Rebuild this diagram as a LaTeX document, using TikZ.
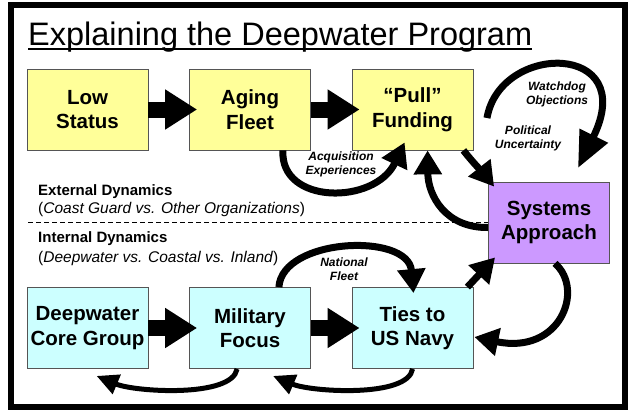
\documentclass[tikz,border=0pt]{standalone}
\usepackage{fontspec}
\setmainfont{Liberation Sans}
\usetikzlibrary{arrows.meta,calc}
\definecolor{yfill}{HTML}{FFFF99}
\definecolor{cfill}{HTML}{CCFFFF}
\definecolor{pfill}{HTML}{CC99FF}
\definecolor{boxline}{HTML}{555555}
\begin{document}
\begin{tikzpicture}[x=1pt,y=-1pt,
  box/.style={draw=boxline, line width=0.8pt, minimum width=121pt, minimum height=81pt,
    inner sep=0pt, align=center, font=\fontsize{20.5}{24.5}\selectfont\bfseries},
  ybox/.style={box, fill=yfill},
  cbox/.style={box, fill=cfill},
  pbox/.style={box, fill=pfill},
  block/.style={line width=16pt, -{Triangle[width=38pt,length=32pt]}},
  curvebig/.style={line width=7pt, -{Triangle[width=30pt,length=36pt]}},
  curvemid/.style={line width=7pt, -{Triangle[width=27pt,length=24pt]}},
  curvesmall/.style={line width=5pt, -{Triangle[width=20pt,length=22pt]}},
  lab/.style={font=\fontsize{12}{14}\selectfont\bfseries\itshape, align=center, inner sep=0pt},
  headtxt/.style={font=\fontsize{15}{17}\selectfont\bfseries, anchor=base west, inner sep=0pt},
  subtxt/.style={font=\fontsize{15.5}{17}\selectfont, anchor=base west, inner sep=0pt},
]
\useasboundingbox (0,0) rectangle (632,413);
\fill[white] (0,0) rectangle (632,413);
% frame
\draw[line width=6pt] (11,4.5) rectangle (624.5,407);
% title
\node[anchor=base west, inner sep=0pt, font=\fontsize{32.5}{36}\selectfont] (title) at (28,45) {Explaining the Deepwater Program};
\draw[line width=2pt] ($(title.base west)+(0,4)$) -- ($(title.base east)+(0,4)$);
% boxes
\node[ybox] (low) at (87.5,109.5) {Low\\Status};
\node[ybox] (aging) at (250,109.5) {Aging\\Fleet};
\node[ybox] (pull) at (412.5,109.5) {“Pull”\\Funding};
\node[cbox] (deep) at (87.5,328) {Deepwater\\Core Group};
\node[cbox] (mil) at (250,328) {Military\\Focus};
\node[cbox] (ties) at (412.5,328) {Ties to\\US Navy};
\node[pbox] (sys) at (549,222.5) {Systems\\Approach};
% dashed separator
\coordinate (dl) at (28,222.5);
\draw[line width=1.5pt, dash pattern=on 5pt off 3pt] (dl) -- (sys.west);
% texts
\node[headtxt] (ext) at (38,195) {External Dynamics};
\node[subtxt] (extsub) at (38,213) {(\textit{Coast Guard vs. Other Organizations})};
\node[headtxt] (int) at (38,242) {Internal Dynamics};
\node[subtxt] (intsub) at (38,262) {(\textit{Deepwater vs. Coastal vs. Inland})};
% block arrows
\draw[block] (low.east) -- ($(aging.west)+(8,0)$);
\draw[block] (aging.east) -- ($(pull.west)+(8,0)$);
\draw[block] (deep.east) -- ($(mil.west)+(8,0)$);
\draw[block] (mil.east) -- ($(ties.west)+(8,0)$);
% acquisition experiences
\draw[curvemid] ($(aging.south east)+(-28,0)$) .. controls (280,205) and (375,205) .. ($(pull.south west)+(53,-8)$);
\node[lab] (acq) at (341,164) {Acquisition\\Experiences};
% pull -> systems
\draw[curvemid] ($(pull.south east)+(-10,0)$) .. controls (475,165) and (485,175) .. ($(sys.north west)+(6,5)$);
% systems -> pull
\draw[curvemid] ($(sys.west)+(0,5)$) .. controls (445,228) and (428,195) .. ($(pull.south west)+(76,0)$);
% watchdog
\coordinate (wd1) at (487,118);
\coordinate (wd2) at (578,168);
\draw[curvebig] (wd1) .. controls (500,42) and (640,42) .. (wd2);
\node[lab] (watch) at (557,94) {Watchdog\\Objections};
\node[lab] (pol) at (528,138) {Political\\Uncertainty};
% national fleet
\draw[curvemid] ($(mil.north east)+(-32,0)$) .. controls (282,238) and (408,232) .. ($(ties.north)+(1,6)$);
\node[lab] (nat) at (344,269) {National\\Fleet};
% ties -> systems
\draw[curvemid] ($(ties.north east)+(-6,0)$) -- ($(sys.south west)+(7,-6)$);
% systems -> ties
\draw[curvemid] ($(sys.south)+(6,0)$) .. controls (585,290) and (560,355) .. ($(ties.east)+(1,9)$);
% bottom arcs
\draw[curvesmall] ($(mil.south west)+(48,0)$) .. controls (232,398) and (135,392) .. ($(deep.south)+(9,7)$);
\draw[curvesmall] ($(ties.south west)+(61,0)$) .. controls (408,398) and (311,392) .. ($(mil.south)+(23,7)$);
\end{tikzpicture}
\end{document}
